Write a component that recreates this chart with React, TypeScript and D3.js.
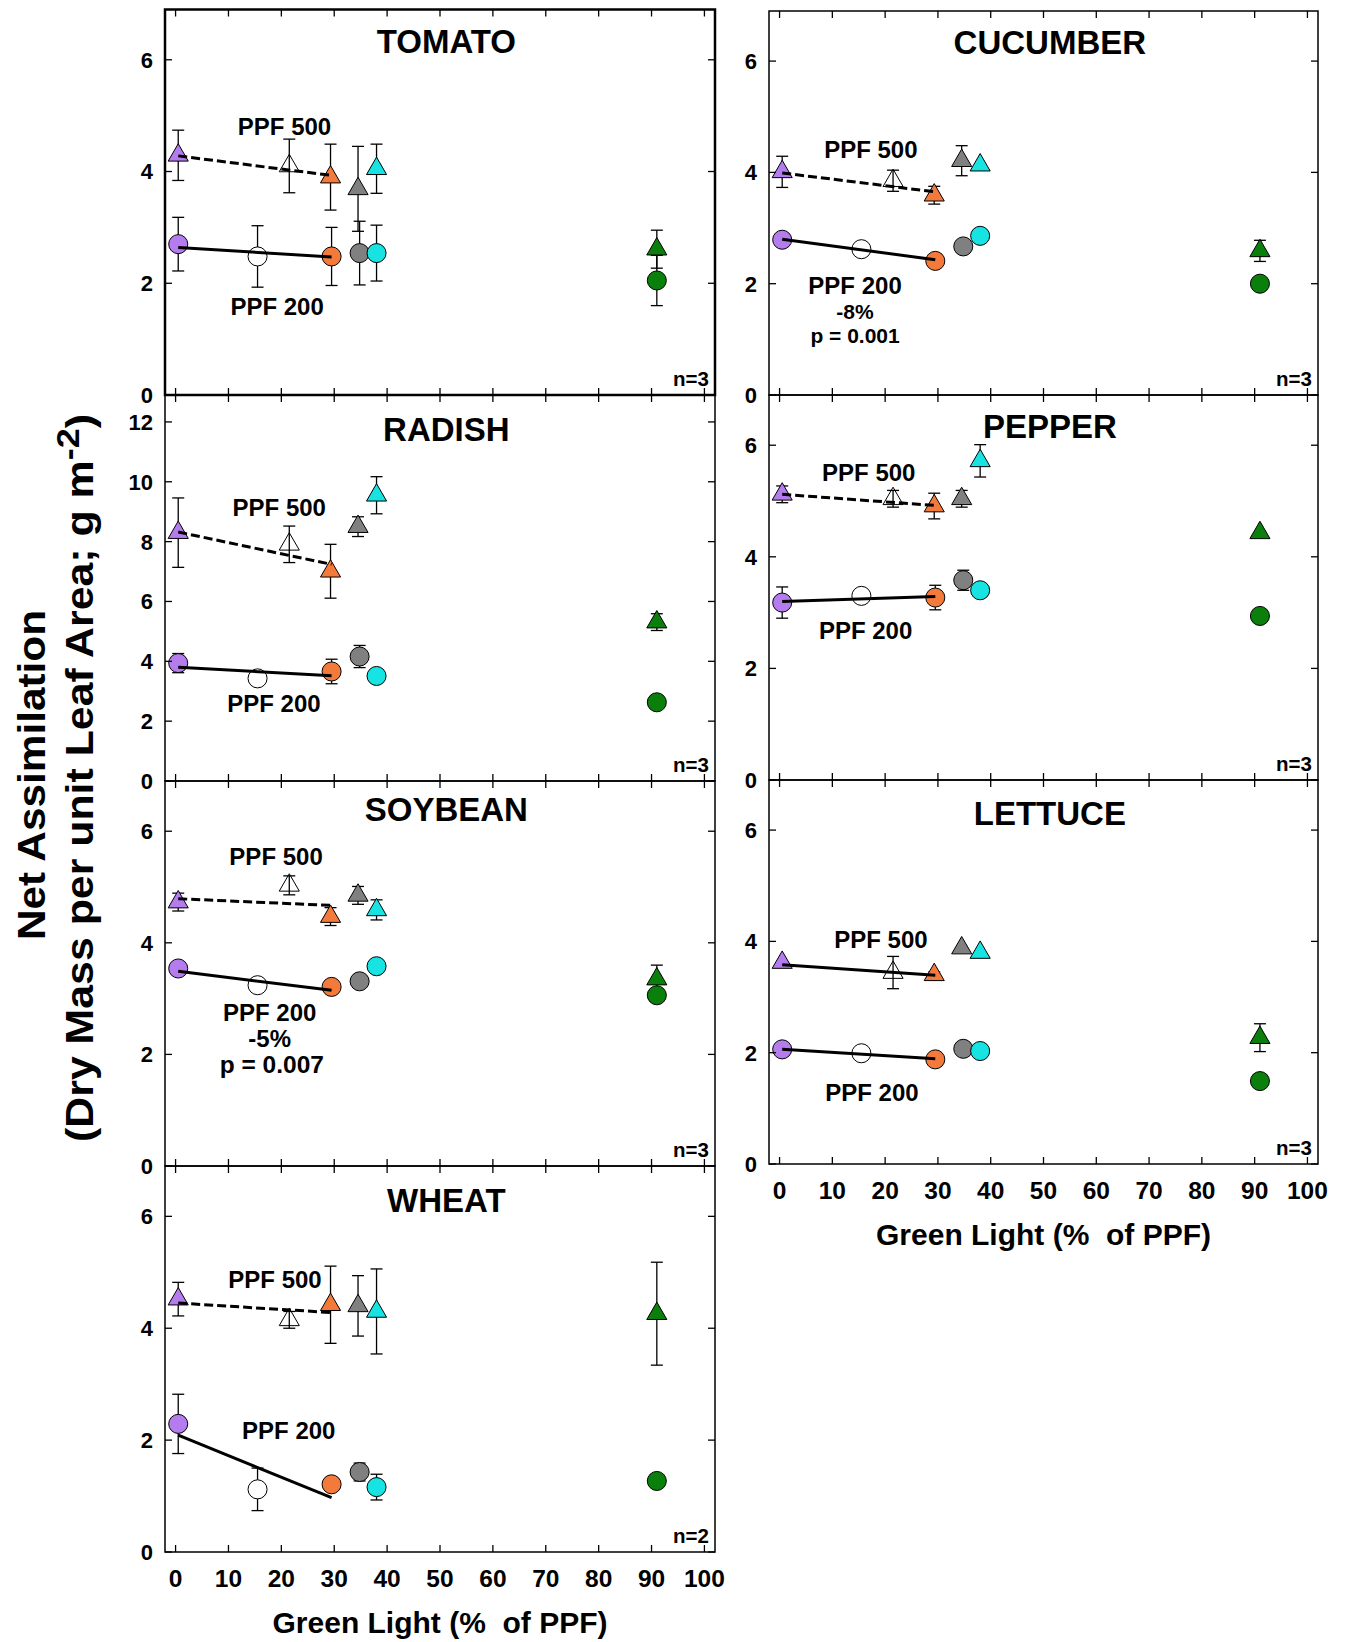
import React from "react";
import * as d3 from "d3";

const FONT = "'Liberation Sans', Arial, Helvetica, sans-serif";

// ---- treatments (light sources) ----
const treatmentNames = ["0% green", "white", "orange", "gray", "cyan", "green"];
const treatmentColors = ["#b47ced", "#ffffff", "#f47a3c", "#808080", "#17e3e3", "#0b7f0b"];
const greenPctPPF200 = [0.5, 15.5, 29.5, 34.8, 38, 91];
const greenPctPPF500 = [0.5, 21.5, 29.3, 34.5, 38, 91];
const fitX = [0.5, 29.5];
const xTickValues = [0, 10, 20, 30, 40, 50, 60, 70, 80, 90, 100];

// ---- TOMATO ----
const tomatoPPF500 = [4.29, 4.1, 3.9, 3.69, 4.05, 2.61];
const tomatoPPF500Err = [0.45, 0.48, 0.59, 0.76, 0.44, 0.34];
const tomatoPPF200 = [2.7, 2.48, 2.48, 2.54, 2.54, 2.05];
const tomatoPPF200Err = [0.48, 0.55, 0.52, 0.57, 0.5, 0.45];
const tomatoFit500 = [4.28, 3.93];
const tomatoFit200 = [2.64, 2.47];

// ---- CUCUMBER ----
const cucumberPPF500 = [4.01, 3.85, 3.59, 4.21, 4.13, 2.59];
const cucumberPPF500Err = [0.28, 0.19, 0.16, 0.27, 0, 0.19];
const cucumberPPF200 = [2.79, 2.62, 2.41, 2.67, 2.86, 2.0];
const cucumberPPF200Err = [0, 0, 0, 0, 0, 0.05];
const cucumberFit500 = [3.99, 3.65];
const cucumberFit200 = [2.8, 2.43];

// ---- RADISH ----
const radishPPF500 = [8.3, 7.91, 7.01, 8.5, 9.55, 5.31];
const radishPPF500Err = [1.16, 0.61, 0.9, 0.33, 0.62, 0.28];
const radishPPF200 = [3.94, 3.43, 3.66, 4.16, 3.51, 2.63];
const radishPPF200Err = [0.32, 0, 0.41, 0.37, 0, 0];
const radishFit500 = [8.32, 7.24];
const radishFit200 = [3.8, 3.52];

// ---- PEPPER ----
const pepperPPF500 = [5.12, 5.04, 4.91, 5.04, 5.72, 4.43];
const pepperPPF500Err = [0.15, 0.15, 0.23, 0.15, 0.29, 0];
const pepperPPF200 = [3.18, 3.3, 3.27, 3.58, 3.4, 2.94];
const pepperPPF200Err = [0.28, 0.05, 0.22, 0.18, 0.1, 0];
const pepperFit500 = [5.12, 4.92];
const pepperFit200 = [3.2, 3.29];

// ---- SOYBEAN ----
const soybeanPPF500 = [4.73, 5.03, 4.47, 4.85, 4.59, 3.35];
const soybeanPPF500Err = [0.16, 0.17, 0.16, 0.16, 0.18, 0.25];
const soybeanPPF200 = [3.54, 3.24, 3.21, 3.31, 3.58, 3.06];
const soybeanPPF200Err = [0, 0, 0, 0, 0, 0];
const soybeanFit500 = [4.79, 4.67];
const soybeanFit200 = [3.49, 3.15];

// ---- LETTUCE ----
const lettucePPF500 = [3.62, 3.44, 3.4, 3.88, 3.8, 2.27];
const lettucePPF500Err = [0, 0.29, 0.05, 0, 0, 0.25];
const lettucePPF200 = [2.06, 1.99, 1.88, 2.07, 2.03, 1.49];
const lettucePPF200Err = [0, 0, 0, 0, 0, 0];
const lettuceFit500 = [3.58, 3.39];
const lettuceFit200 = [2.06, 1.89];

// ---- WHEAT ----
const wheatPPF500 = [4.52, 4.15, 4.42, 4.4, 4.3, 4.26];
const wheatPPF500Err = [0.3, 0.15, 0.69, 0.54, 0.76, 0.92];
const wheatPPF200 = [2.29, 1.12, 1.21, 1.43, 1.16, 1.27];
const wheatPPF200Err = [0.53, 0.38, 0, 0.16, 0.23, 0];
const wheatFit500 = [4.45, 4.28];
const wheatFit200 = [2.09, 0.97];

// ---- axis labels ----
const yTitle1 = "Net Assimilation";
const yTitle2 = "(Dry Mass per unit Leaf Area; g m";
const xTitle = "Green Light (%  of PPF)";

type Note = { text: string; x: number; y: number; size: number };

const crops = [
  { name: "TOMATO", n: "n=3", p500: tomatoPPF500, e500: tomatoPPF500Err, p200: tomatoPPF200, e200: tomatoPPF200Err, f500: tomatoFit500, f200: tomatoFit200, dashed500: true,
    notes: [{ text: "PPF 500", x: 20.6, y: 4.8, size: 24 }, { text: "PPF 200", x: 19.2, y: 1.58, size: 24 }] as Note[] },
  { name: "RADISH", n: "n=3", p500: radishPPF500, e500: radishPPF500Err, p200: radishPPF200, e200: radishPPF200Err, f500: radishFit500, f200: radishFit200, dashed500: true,
    notes: [{ text: "PPF 500", x: 19.6, y: 9.16, size: 24 }, { text: "PPF 200", x: 18.6, y: 2.59, size: 24 }] as Note[] },
  { name: "SOYBEAN", n: "n=3", p500: soybeanPPF500, e500: soybeanPPF500Err, p200: soybeanPPF200, e200: soybeanPPF200Err, f500: soybeanFit500, f200: soybeanFit200, dashed500: true,
    notes: [{ text: "PPF 500", x: 19.0, y: 5.55, size: 24 }, { text: "PPF 200", x: 17.8, y: 2.76, size: 24 }, { text: "-5%", x: 17.8, y: 2.29, size: 24 }, { text: "p = 0.007", x: 18.2, y: 1.82, size: 24.5 }] as Note[] },
  { name: "WHEAT", n: "n=2", p500: wheatPPF500, e500: wheatPPF500Err, p200: wheatPPF200, e200: wheatPPF200Err, f500: wheatFit500, f200: wheatFit200, dashed500: true,
    notes: [{ text: "PPF 500", x: 18.8, y: 4.88, size: 24 }, { text: "PPF 200", x: 21.4, y: 2.18, size: 24 }] as Note[] },
  { name: "CUCUMBER", n: "n=3", p500: cucumberPPF500, e500: cucumberPPF500Err, p200: cucumberPPF200, e200: cucumberPPF200Err, f500: cucumberFit500, f200: cucumberFit200, dashed500: true,
    notes: [{ text: "PPF 500", x: 17.3, y: 4.41, size: 24 }, { text: "PPF 200", x: 14.3, y: 1.97, size: 24 }, { text: "-8%", x: 14.3, y: 1.5, size: 21 }, { text: "p = 0.001", x: 14.3, y: 1.07, size: 21 }] as Note[] },
  { name: "PEPPER", n: "n=3", p500: pepperPPF500, e500: pepperPPF500Err, p200: pepperPPF200, e200: pepperPPF200Err, f500: pepperFit500, f200: pepperFit200, dashed500: true,
    notes: [{ text: "PPF 500", x: 16.9, y: 5.51, size: 24 }, { text: "PPF 200", x: 16.3, y: 2.69, size: 24 }] as Note[] },
  { name: "LETTUCE", n: "n=3", p500: lettucePPF500, e500: lettucePPF500Err, p200: lettucePPF200, e200: lettucePPF200Err, f500: lettuceFit500, f200: lettuceFit200, dashed500: false,
    notes: [{ text: "PPF 500", x: 19.2, y: 4.03, size: 24 }, { text: "PPF 200", x: 17.5, y: 1.29, size: 24 }] as Note[] },
];

// ---- layout (pixels) ----
const columns = [
  { x0: 165, x1: 715 },
  { x0: 769, x1: 1318 },
];
const layout: Record<string, any> = {
  TOMATO: { col: 0, top: 9.5, bottom: 395, yMax: 6.9, yTicks: [0, 2, 4, 6], titleOff: 32, border: 2.5, xLabels: false },
  RADISH: { col: 0, top: 395, bottom: 781, yMax: 12.9, yTicks: [0, 2, 4, 6, 8, 10, 12], titleOff: 34, border: 1.5, xLabels: false },
  SOYBEAN: { col: 0, top: 781, bottom: 1166, yMax: 6.9, yTicks: [0, 2, 4, 6], titleOff: 28, border: 1.5, xLabels: false },
  WHEAT: { col: 0, top: 1166, bottom: 1552, yMax: 6.9, yTicks: [0, 2, 4, 6], titleOff: 34, border: 1.5, xLabels: true },
  CUCUMBER: { col: 1, top: 11, bottom: 395, yMax: 6.9, yTicks: [0, 2, 4, 6], titleOff: 31, border: 1.5, xLabels: false },
  PEPPER: { col: 1, top: 395, bottom: 780, yMax: 6.9, yTicks: [0, 2, 4, 6], titleOff: 31, border: 1.5, xLabels: false },
  LETTUCE: { col: 1, top: 780, bottom: 1164, yMax: 6.9, yTicks: [0, 2, 4, 6], titleOff: 33, border: 1.5, xLabels: true },
};

const triPath = d3.symbol(d3.symbolTriangle, 175)() as string;
const circPath = d3.symbol(d3.symbolCircle, 285)() as string;

function Panel({ crop }: { crop: (typeof crops)[number] }) {
  const L = layout[crop.name];
  const col = columns[L.col];
  const x = d3.scaleLinear().domain([-2, 102]).range([col.x0, col.x1]);
  const y = d3.scaleLinear().domain([0, L.yMax]).range([L.bottom, L.top]);
  const tick = 7;
  const errBars = (vals: number[], errs: number[], xs: number[], key: string) =>
    vals.map((v, i) => {
      const e = errs[i];
      if (!e) return null;
      const cx = x(xs[i]);
      const yt = y(v + e);
      const yb = y(v - e);
      return (
        <g key={key + i} stroke="#000" strokeWidth={1.3}>
          <line x1={cx} x2={cx} y1={yt} y2={yb} />
          <line x1={cx - 6} x2={cx + 6} y1={yt} y2={yt} />
          <line x1={cx - 6} x2={cx + 6} y1={yb} y2={yb} />
        </g>
      );
    });
  const line = d3.line<[number, number]>().x((d) => x(d[0])).y((d) => y(d[1]));
  return (
    <g>
      {errBars(crop.p500, crop.e500, greenPctPPF500, "e5")}
      {errBars(crop.p200, crop.e200, greenPctPPF200, "e2")}
      {crop.p500.map((v, i) => (
        <path
          key={"t" + i}
          d={triPath}
          transform={`translate(${x(greenPctPPF500[i])},${y(v)})`}
          fill={treatmentNames[i] === "white" ? "none" : treatmentColors[i]}
          stroke="#000"
          strokeWidth={1}
        />
      ))}
      {crop.p200.map((v, i) => (
        <path
          key={"c" + i}
          d={circPath}
          transform={`translate(${x(greenPctPPF200[i])},${y(v)})`}
          fill={treatmentColors[i]}
          stroke="#000"
          strokeWidth={1}
        />
      ))}
      <path
        d={line([[fitX[0], crop.f500[0]], [fitX[1], crop.f500[1]]]) as string}
        stroke="#000"
        strokeWidth={3}
        fill="none"
        strokeDasharray={crop.dashed500 ? "9 4" : undefined}
      />
      <path d={line([[fitX[0], crop.f200[0]], [fitX[1], crop.f200[1]]]) as string} stroke="#000" strokeWidth={3} fill="none" />
      <rect x={col.x0} y={L.top} width={col.x1 - col.x0} height={L.bottom - L.top} fill="none" stroke="#000" strokeWidth={L.border} />
      {xTickValues.map((t) => (
        <g key={"xt" + t} stroke="#000" strokeWidth={1.3}>
          <line x1={x(t)} x2={x(t)} y1={L.top} y2={L.top + tick} />
          <line x1={x(t)} x2={x(t)} y1={L.bottom} y2={L.bottom - tick} />
        </g>
      ))}
      {L.yTicks.map((t: number) => (
        <g key={"yt" + t}>
          <line x1={col.x0} x2={col.x0 + tick} y1={y(t)} y2={y(t)} stroke="#000" strokeWidth={1.3} />
          <line x1={col.x1} x2={col.x1 - tick} y1={y(t)} y2={y(t)} stroke="#000" strokeWidth={1.3} />
          <text x={col.x0 - 12} y={y(t)} dy="0.36em" textAnchor="end" fontSize={22} fontWeight="bold" fontFamily={FONT}>
            {t}
          </text>
        </g>
      ))}
      {L.xLabels &&
        xTickValues.map((t) => (
          <text key={"xl" + t} x={x(t)} y={L.bottom + 35} textAnchor="middle" fontSize={24.5} fontWeight="bold" fontFamily={FONT}>
            {t}
          </text>
        ))}
      {L.xLabels && (
        <text x={x(50)} y={L.bottom + 81} textAnchor="middle" fontSize={30} fontWeight="bold" fontFamily={FONT} style={{ whiteSpace: "pre" }}>
          {xTitle}
        </text>
      )}
      <text x={x(51.2)} y={L.top + L.titleOff} dy="0.36em" textAnchor="middle" fontSize={33} fontWeight="bold" fontFamily={FONT}>
        {crop.name}
      </text>
      {crop.notes.map((nt, i) => (
        <text key={"n" + i} x={x(nt.x)} y={y(nt.y)} dy="0.36em" textAnchor="middle" fontSize={nt.size} fontWeight="bold" fontFamily={FONT} style={{ whiteSpace: "pre" }}>
          {nt.text}
        </text>
      ))}
      <text x={col.x1 - 6} y={L.bottom - 9} textAnchor="end" fontSize={20.5} fontWeight="bold" fontFamily={FONT}>
        {crop.n}
      </text>
    </g>
  );
}

export default function App() {
  return (
    <svg width={1347} height={1642} style={{ position: "absolute", left: 0, top: 0, background: "#fff" }}>
      <rect width={1347} height={1642} fill="#fff" />
      {crops.map((c) => (
        <Panel key={c.name} crop={c} />
      ))}
      <text
        transform="translate(31,775) rotate(-90)"
        dy="0.36em"
        textAnchor="middle"
        fontSize={38}
        fontWeight="bold"
        fontFamily={FONT}
        textLength={330}
        lengthAdjust="spacingAndGlyphs"
      >
        {yTitle1}
      </text>
      <text
        transform="translate(79,778) rotate(-90)"
        dy="0.36em"
        textAnchor="middle"
        fontSize={38}
        fontWeight="bold"
        fontFamily={FONT}
        textLength={728}
        lengthAdjust="spacingAndGlyphs"
      >
        {yTitle2}
        <tspan dy="-14" fontSize={32}>-2</tspan>
        <tspan dy="14">)</tspan>
      </text>
    </svg>
  );
}
